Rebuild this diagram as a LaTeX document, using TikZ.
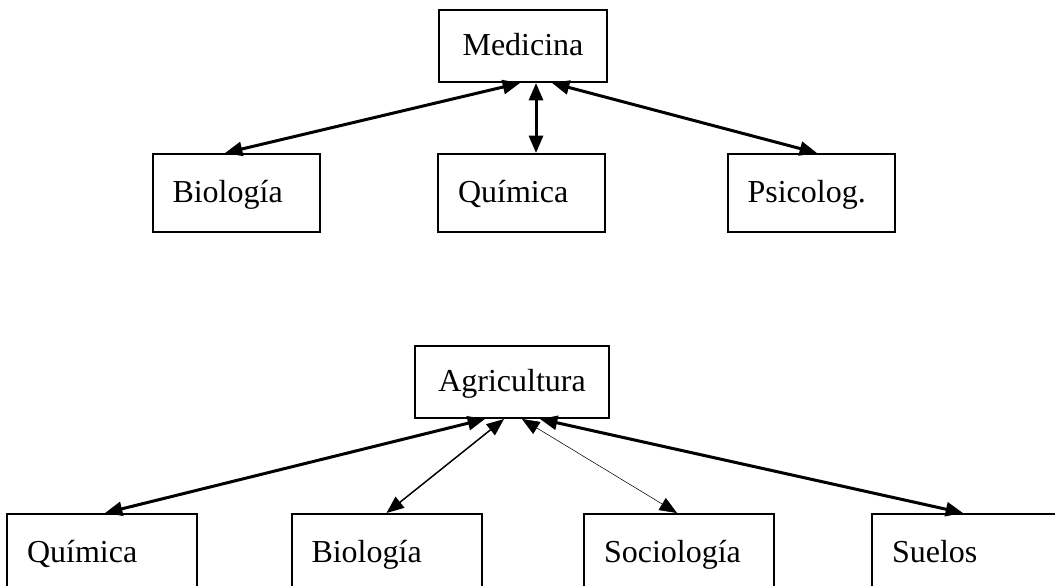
\documentclass[tikz,border=0pt]{standalone}
\usepackage{fontspec}
\setmainfont{Liberation Serif}
\usetikzlibrary{arrows.meta}

\tikzset{
  texto/.style={font=\fontsize{24}{28}\selectfont, text height=15.5pt, text depth=1pt},
  jefe/.style={draw, line width=1.5pt, minimum height=54pt, texto},
  caja/.style={draw, line width=1.5pt, minimum height=58.5pt, inner xsep=15pt,
    text width=#1, align=left, texto},
  flecha/.style={{Triangle[length=13pt,width=10.5pt]}-{Triangle[length=13pt,width=10.5pt]}}
}

\begin{document}
\begin{tikzpicture}[x=0.75pt, y=-0.75pt]
  \useasboundingbox (0,0) rectangle (1055,585);
  \clip (0,0) rectangle (1055,585);

  % medicina
  \node[jefe, minimum width=126pt] (med) at (523,46) {Medicina};
  \node[caja=95.25pt] (bio) at (236,193) {Biología};
  \node[caja=95.25pt] (qui) at (521.5,193) {Química};
  \node[caja=95.25pt] (psi) at (811,193) {Psicolog.};

  \foreach \a/\n/\b in {-3/bio/-11, 13/qui/14.5, 29/psi/6}
    \draw[flecha, line width=2.25pt] ([shift={(\a,0)}]med.south) -- ([shift={(\b,0)}]\n.north);

  % agricultura
  \node[jefe, minimum width=145.5pt] (agr) at (512,382) {Agricultura};
  \node[caja=112.5pt] (qui2) at (102,553) {Química};
  \node[caja=112.5pt] (bio2) at (386.5,553) {Biología};
  \node[caja=112.5pt] (soc) at (679,553) {Sociología};
  \node[caja=112.5pt] (sue) at (967,553) {Suelos};

  \foreach \a/\n/\b/\w in {-27/qui2/3/2.25, -8/bio2/0/1.1, 10/soc/-2/0.4, 28/sue/-4/2.25}
    \draw[flecha, line width=\w pt] ([shift={(\a,0)}]agr.south) -- ([shift={(\b,0)}]\n.north);
\end{tikzpicture}
\end{document}
